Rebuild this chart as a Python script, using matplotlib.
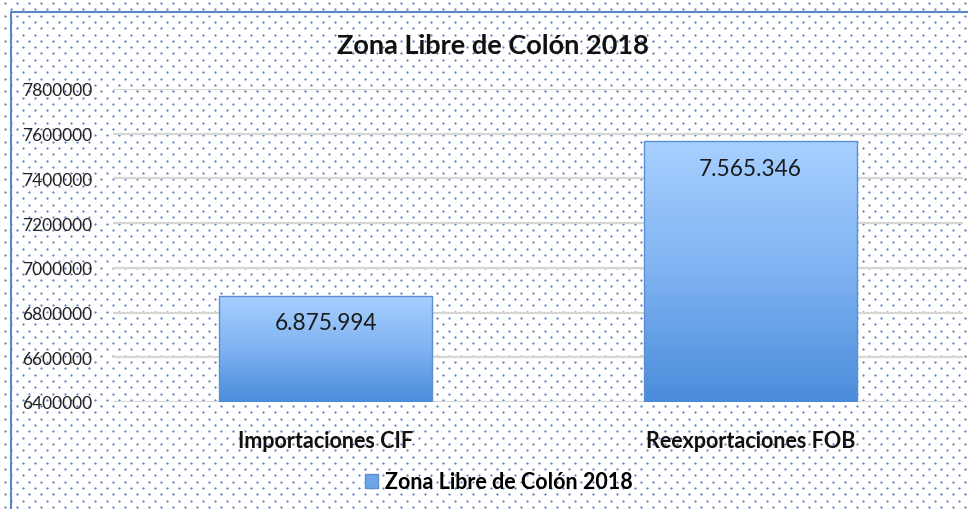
import numpy as np
import matplotlib.pyplot as plt
from matplotlib.colors import LinearSegmentedColormap
from matplotlib.patches import Patch

categorias = ['Importaciones CIF', 'Reexportaciones FOB']
valores = [6875994, 7565346]
etiquetas = ['6.875.994', '7.565.346']
serie = 'Zona Libre de Colón 2018'
titulo = 'Zona Libre de Colón 2018'
yticks = [6400000, 6600000, 6800000, 7000000, 7200000, 7400000, 7600000, 7800000]

plt.rcParams['font.family'] = ['Lato', 'DejaVu Sans']

W, H = 968, 510
fig = plt.figure(figsize=(W / 100, H / 100), dpi=100)

# fondo punteado (trama de Excel) en coordenadas de pixel
bg = fig.add_axes([0, 0, 1, 1], zorder=0)
bg.set_xlim(0, W)
bg.set_ylim(H, 0)
bg.axis('off')
for off_x, off_y in [(5, 4), (11, 10.3)]:
    xx, yy = np.meshgrid(np.arange(off_x, W, 12), np.arange(off_y, H, 12.6))
    bg.scatter(xx.ravel(), yy.ravel(), s=2.6, color='#4a6fb5', linewidths=0, alpha=0.9)
# borde azul del grafico
bg.plot([11, 11, W + 5], [H + 5, 13, 13], color='#5b86c9', lw=1.5, solid_capstyle='butt')

ax = fig.add_axes([113 / W, 1 - 403 / H, 850 / W, 313 / H], zorder=1)
ax.patch.set_alpha(0)

x = np.arange(len(categorias))
bars = ax.bar(x, valores, width=0.5, facecolor='none', edgecolor='#5d8fd0', lw=1.0, zorder=3)

grad = LinearSegmentedColormap.from_list('g', ['#4a8cdb', '#7fb3f2', '#a8d0ff'])
ymin, ymax = 6400000, 7800000
for b in bars:
    x0, w, h = b.get_x(), b.get_width(), b.get_height()
    img = np.linspace(0, 1, 256).reshape(-1, 1)
    im = ax.imshow(img, extent=[x0, x0 + w, ymin, h], origin='lower', aspect='auto',
                   cmap=grad, zorder=2)
    im.set_clip_path(b)

for xi, v, t in zip(x, valores, etiquetas):
    ax.annotate(t, (xi, v), xytext=(0, -12), textcoords='offset points',
                ha='center', va='top', fontsize=16.3, color='#1a1a1a', zorder=4)

ax.set_xlim(-0.5, 1.5)
ax.set_ylim(ymin, ymax)
ax.set_yticks(yticks)
ax.set_yticklabels([str(t) for t in yticks], fontsize=12.5, color='#222222')
ax.set_xticks(x)
ax.set_xticklabels(categorias, fontsize=15.5, fontweight='bold', color='#111111')
ax.tick_params(axis='y', length=0, pad=15)
ax.tick_params(axis='x', length=0, pad=20)
for s in ax.spines.values():
    s.set_visible(False)
ax.set_axisbelow(True)
ax.yaxis.grid(True, color='#d6d6d6', lw=1.6)

fig.text(493 / W, 1 - 46 / H, titulo, ha='center', va='center', fontsize=19.5,
         fontweight='bold', color='#111111')

fig.legend(handles=[Patch(facecolor='#6fa6ea', edgecolor='#5d8fd0', label=serie)],
           loc='center', bbox_to_anchor=(499 / W, 1 - 483 / H), frameon=False,
           handlelength=0.6, handleheight=0.6, handletextpad=0.3,
           prop={'size': 15.5, 'weight': 'bold'})

fig.savefig('out.png', dpi=100)
